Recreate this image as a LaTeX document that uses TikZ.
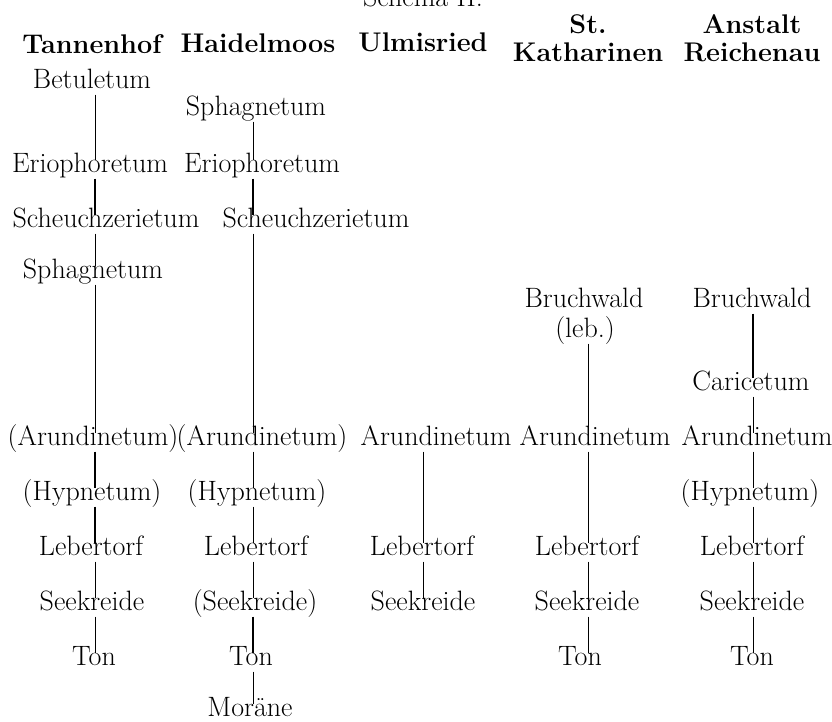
\documentclass[tikz,border=0pt]{standalone}
\usepackage{tikz}

\tikzset{
  layer/.style={font=\fontsize{28}{30}\selectfont, anchor=base,
    text height=0.72em, text depth=0.15em, inner xsep=1pt, inner ysep=5pt},
  head/.style={font=\fontsize{27}{28}\selectfont\bfseries, align=center, inner sep=0pt},
  link/.style={line width=0.8pt},
  heavy link/.style={line width=1.7pt}
}

\begin{document}
\begin{tikzpicture}[x=1pt, y=-1pt]
    \useasboundingbox (0,0) rectangle (832,721);

    % Title and headings
    \node[layer] (title) at (423,6) {Schema II.};
    \node[head] (tHead) at (92,44) {Tannenhof};
    \node[head] (hHead) at (258,43) {Haidelmoos};
    \node[head] (uHead) at (423,42) {Ulmisried};
    \node[head] (kHead) at (588,38) {St.\\Katharinen};
    \node[head] (rHead) at (752,38) {Anstalt\\Reichenau};

    % line positions of the columns
    \coordinate (tCol) at (95,0);
    \coordinate (hCol) at (253,0);
    \coordinate (uCol) at (423,0);
    \coordinate (kCol) at (588,0);
    \coordinate (rCol) at (753,0);

    % Tannenhof
    \node[layer] (tBet) at (92,88) {Betuletum};
    \node[layer] (tEri) at (90,172) {Eriophoretum};
    \node[layer] (tSch) at (106,227) {Scheuchzerietum};
    \node[layer] (tSph) at (93,278) {Sphagnetum};
    \node[layer] (tAru) at (93,445) {(Arundinetum)};
    \node[layer] (tHyp) at (92,500) {(Hypnetum)};
    \node[layer] (tLeb) at (91,555) {Lebertorf};
    \node[layer] (tSee) at (92,610) {Seekreide};
    \node[layer] (tTon) at (94,665) {Ton};
    \draw[link] (tCol |- tBet.south) -- (tCol |- tEri.north);
    \draw[heavy link] (tCol |- tEri.south) -- (tCol |- tSch.north);
    \draw[link] (tCol |- tSch.south) -- (tCol |- tSph.north);
    \draw[link] (tCol |- tSph.south) -- (tCol |- tAru.north);
    \draw[heavy link] (tCol |- tAru.south) -- (tCol |- tHyp.north);
    \draw[heavy link] (tCol |- tHyp.south) -- (tCol |- tLeb.north);
    \draw[link] (tCol |- tLeb.south) -- (tCol |- tSee.north);
    \draw[link] (tCol |- tSee.south) -- (tCol |- tTon.north);

    % Haidelmoos
    \node[layer] (hSph) at (256,115) {Sphagnetum};
    \node[layer] (hEri) at (262,172) {Eriophoretum};
    \node[layer] (hSch) at (316,227) {Scheuchzerietum};
    \node[layer] (hAru) at (262,445) {(Arundinetum)};
    \node[layer] (hHyp) at (257,500) {(Hypnetum)};
    \node[layer] (hLeb) at (256,555) {Lebertorf};
    \node[layer] (hSee) at (255,610) {(Seekreide)};
    \node[layer] (hTon) at (251,665) {Ton};
    \node[layer] (hMor) at (250,716) {Moräne};
    \draw[link] (hCol |- hSph.south) -- (hCol |- hEri.north);
    \draw[heavy link] (hCol |- hEri.south) -- (hCol |- hSch.north);
    \draw[link] (hCol |- hSch.south) -- (hCol |- hAru.north);
    \draw[link] (hCol |- hAru.south) -- (hCol |- hHyp.north);
    \draw[link] (hCol |- hHyp.south) -- (hCol |- hLeb.north);
    \draw[link] (hCol |- hLeb.south) -- (hCol |- hSee.north);
    \draw[heavy link] (hCol |- hSee.south) -- (hCol |- hTon.north);
    \draw[link] (hCol |- hTon.south) -- (hCol |- hMor.north);

    % Ulmisried
    \node[layer] (uAru) at (436,445) {Arundinetum};
    \node[layer] (uLeb) at (422,555) {Lebertorf};
    \node[layer] (uSee) at (423,610) {Seekreide};
    \draw[link] (uCol |- uAru.south) -- (uCol |- uLeb.north);
    \draw[link] (uCol |- uLeb.south) -- (uCol |- uSee.north);

    % St. Katharinen
    \node[layer] (kBru) at (584,307) {Bruchwald};
    \node[layer] (kLbd) at (585,337) {(leb.)};
    \node[layer] (kAru) at (595,445) {Arundinetum};
    \node[layer] (kLeb) at (587,555) {Lebertorf};
    \node[layer] (kSee) at (587,610) {Seekreide};
    \node[layer] (kTon) at (580,665) {Ton};
    \draw[link] (kCol |- kLbd.south) -- (kCol |- kAru.north);
    \draw[link] (kCol |- kAru.south) -- (kCol |- kLeb.north);
    \draw[link] (kCol |- kLeb.south) -- (kCol |- kSee.north);
    \draw[link] (kCol |- kSee.south) -- (kCol |- kTon.north);

    % Anstalt Reichenau
    \node[layer] (rBru) at (752,307) {Bruchwald};
    \node[layer] (rCar) at (751,390) {Caricetum};
    \node[layer] (rAru) at (757,445) {Arundinetum};
    \node[layer] (rHyp) at (750,500) {(Hypnetum)};
    \node[layer] (rLeb) at (752,555) {Lebertorf};
    \node[layer] (rSee) at (752,610) {Seekreide};
    \node[layer] (rTon) at (752,665) {Ton};
    \draw[heavy link] (rCol |- rBru.south) -- (rCol |- rCar.north);
    \draw[link] (rCol |- rCar.south) -- (rCol |- rAru.north);
    \draw[link] (rCol |- rAru.south) -- (rCol |- rHyp.north);
    \draw[link] (rCol |- rHyp.south) -- (rCol |- rLeb.north);
    \draw[link] (rCol |- rLeb.south) -- (rCol |- rSee.north);
    \draw[link] (rCol |- rSee.south) -- (rCol |- rTon.north);
\end{tikzpicture}
\end{document}
